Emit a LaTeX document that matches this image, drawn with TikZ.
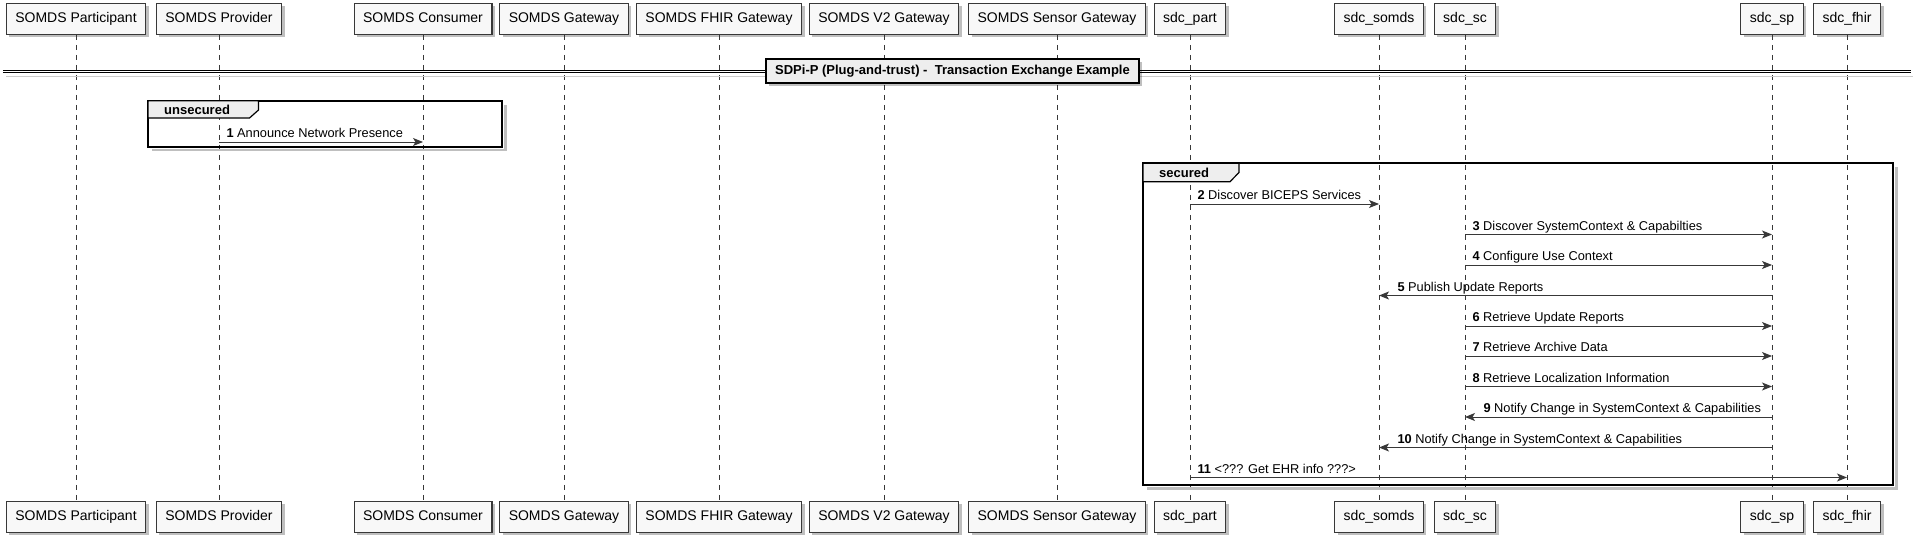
\documentclass[tikz,border=0pt]{standalone}
\usepackage{fontspec}
\setmainfont{Liberation Sans}
\usetikzlibrary{arrows.meta,shadows}

\definecolor{boxfill}{HTML}{F8F8F8}
\definecolor{linegray}{HTML}{383838}
\definecolor{tabfill}{HTML}{EEEEEE}

\begin{document}
\begin{tikzpicture}
          [ x=1pt, y=-1pt,
            actor/.style={
              rectangle,
              draw=linegray,
              line width=1.2pt,
              fill=boxfill,
              inner xsep=9pt,
              inner ysep=0pt,
              text height=10.5pt,
              text depth=3pt,
              minimum height=31pt,
              font=\fontsize{14}{16}\selectfont,
              drop shadow={shadow xshift=3pt, shadow yshift=-3pt,
                fill=black, opacity=.25}},
            titlebox/.style={
              rectangle,
              draw=black,
              line width=1.5pt,
              fill=tabfill,
              inner xsep=9pt,
              minimum height=24pt,
              font=\fontsize{13}{15}\selectfont\bfseries,
              drop shadow={shadow xshift=3pt, shadow yshift=-3pt,
                fill=black, opacity=.25}},
            life/.style={
              draw=linegray,
              line width=.8pt,
              dash pattern=on 5pt off 5pt},
            frame/.style={
              draw=black,
              line width=2pt},
            frameshadow/.style={
              draw=black!25,
              line width=2.5pt},
            tab/.style={
              draw=black,
              line width=1.2pt,
              fill=tabfill},
            tablabel/.style={
              anchor=west,
              inner sep=0pt,
              font=\fontsize{13}{15}\selectfont\bfseries},
            msg/.style={
              draw=linegray,
              line width=1pt,
              ->,
              >={Stealth[length=10pt,width=8pt,inset=2.5pt]}},
            msgtext/.style={
              anchor=base west,
              inner sep=0pt,
              font=\fontsize{12.8}{14}\selectfont},
          ]

          \useasboundingbox (0,0) rectangle (1913,543);

          % participants, top row
          \node (part1) [actor] at (76,18.7) {SOMDS Participant};
          \node (prov1) [actor] at (219,18.7) {SOMDS Provider};
          \node (cons1) [actor] at (423,18.7) {SOMDS Consumer};
          \node (gw1) [actor] at (564,18.7) {SOMDS Gateway};
          \node (fhirgw1) [actor] at (719,18.7) {SOMDS FHIR Gateway};
          \node (vgw1) [actor] at (884,18.7) {SOMDS V2 Gateway};
          \node (sensgw1) [actor] at (1057,18.7) {SOMDS Sensor Gateway};
          \node (sdcpart1) [actor] at (1190,18.7) {sdc\_part};
          \node (sdcsomds1) [actor] at (1379,18.7) {sdc\_somds};
          \node (sdcsc1) [actor] at (1465,18.7) {sdc\_sc};
          \node (sdcsp1) [actor] at (1772,18.7) {sdc\_sp};
          \node (sdcfhir1) [actor] at (1847,18.7) {sdc\_fhir};

          % participants, bottom row
          \node (part2) [actor] at (76,516.7) {SOMDS Participant};
          \node (prov2) [actor] at (219,516.7) {SOMDS Provider};
          \node (cons2) [actor] at (423,516.7) {SOMDS Consumer};
          \node (gw2) [actor] at (564,516.7) {SOMDS Gateway};
          \node (fhirgw2) [actor] at (719,516.7) {SOMDS FHIR Gateway};
          \node (vgw2) [actor] at (884,516.7) {SOMDS V2 Gateway};
          \node (sensgw2) [actor] at (1057,516.7) {SOMDS Sensor Gateway};
          \node (sdcpart2) [actor] at (1190,516.7) {sdc\_part};
          \node (sdcsomds2) [actor] at (1379,516.7) {sdc\_somds};
          \node (sdcsc2) [actor] at (1465,516.7) {sdc\_sc};
          \node (sdcsp2) [actor] at (1772,516.7) {sdc\_sp};
          \node (sdcfhir2) [actor] at (1847,516.7) {sdc\_fhir};

          % lifelines
          \draw[life] (part1) -- (part2);
          \draw[life] (prov1) -- (prov2);
          \draw[life] (cons1) -- (cons2);
          \draw[life] (gw1) -- (gw2);
          \draw[life] (fhirgw1) -- (fhirgw2);
          \draw[life] (vgw1) -- (vgw2);
          \draw[life] (sensgw1) -- (sensgw2);
          \draw[life] (sdcpart1) -- (sdcpart2);
          \draw[life] (sdcsomds1) -- (sdcsomds2);
          \draw[life] (sdcsc1) -- (sdcsc2);
          \draw[life] (sdcsp1) -- (sdcsp2);
          \draw[life] (sdcfhir1) -- (sdcfhir2);

          % divider
          \draw[black!20, line width=1.5pt] (6,76.5) -- (1913,76.5);
          \draw[black, line width=1.1pt, double=white, double distance=1.4pt] (3,71.5) -- (1911,71.5);
          \node (title) [titlebox] at (952.5,71) {SDPi-P (Plug-and-trust) -\ \ Transaction Exchange Example};

          % unsecured group
          \draw[frameshadow] (152,150) -- (505.5,150) -- (505.5,104.5);
          \draw[frame] (148,100.7) rectangle (502,146.7);
          \draw[tab] (148,100.7) -- (258.5,100.7) -- (258.5,110) -- (249.5,118) -- (148,118) -- cycle;
          \node (unsec) [tablabel] at (164,109.5) {unsecured};

          % secured group
          \draw[frameshadow] (1147,488.5) -- (1896.5,488.5) -- (1896.5,167);
          \draw[frame] (1143,163.3) rectangle (1893,485);
          \draw[tab] (1143,163.3) -- (1239,163.3) -- (1239,172.5) -- (1230,181.7) -- (1143,181.7) -- cycle;
          \node (sec) [tablabel] at (1159,172.5) {secured};

          % messages
          \draw[msg] (prov1 |- 0,142) -- (cons1 |- 0,142)
            node (m1) [msgtext, pos=0, xshift=7pt, yshift=4.5pt] {\textbf{1} Announce Network Presence};
          \draw[msg] (sdcpart1 |- 0,204) -- (sdcsomds1 |- 0,204)
            node (m2) [msgtext, pos=0, xshift=7pt, yshift=4.5pt] {\textbf{2} Discover BICEPS Services};
          \draw[msg] (sdcsc1 |- 0,234.5) -- (sdcsp1 |- 0,234.5)
            node (m3) [msgtext, pos=0, xshift=7pt, yshift=4.5pt] {\textbf{3} Discover SystemContext \& Capabilties};
          \draw[msg] (sdcsc1 |- 0,265) -- (sdcsp1 |- 0,265)
            node (m4) [msgtext, pos=0, xshift=7pt, yshift=4.5pt] {\textbf{4} Configure Use Context};
          \draw[msg] (sdcsp1 |- 0,295.5) -- (sdcsomds1 |- 0,295.5)
            node (m5) [msgtext, pos=1, xshift=18pt, yshift=4.5pt] {\textbf{5} Publish Update Reports};
          \draw[msg] (sdcsc1 |- 0,326) -- (sdcsp1 |- 0,326)
            node (m6) [msgtext, pos=0, xshift=7pt, yshift=4.5pt] {\textbf{6} Retrieve Update Reports};
          \draw[msg] (sdcsc1 |- 0,356) -- (sdcsp1 |- 0,356)
            node (m7) [msgtext, pos=0, xshift=7pt, yshift=4.5pt] {\textbf{7} Retrieve Archive Data};
          \draw[msg] (sdcsc1 |- 0,386.5) -- (sdcsp1 |- 0,386.5)
            node (m8) [msgtext, pos=0, xshift=7pt, yshift=4.5pt] {\textbf{8} Retrieve Localization Information};
          \draw[msg] (sdcsp1 |- 0,417) -- (sdcsc1 |- 0,417)
            node (m9) [msgtext, pos=1, xshift=18pt, yshift=4.5pt] {\textbf{9} Notify Change in SystemContext \& Capabilities};
          \draw[msg] (sdcsp1 |- 0,447.5) -- (sdcsomds1 |- 0,447.5)
            node (m10) [msgtext, pos=1, xshift=18pt, yshift=4.5pt] {\textbf{10} Notify Change in SystemContext \& Capabilities};
          \draw[msg] (sdcpart1 |- 0,477.5) -- (sdcfhir1 |- 0,477.5)
            node (m11) [msgtext, pos=0, xshift=7pt, yshift=4.5pt] {\textbf{11} <??? Get EHR info ???>};

        \end{tikzpicture}
\end{document}
